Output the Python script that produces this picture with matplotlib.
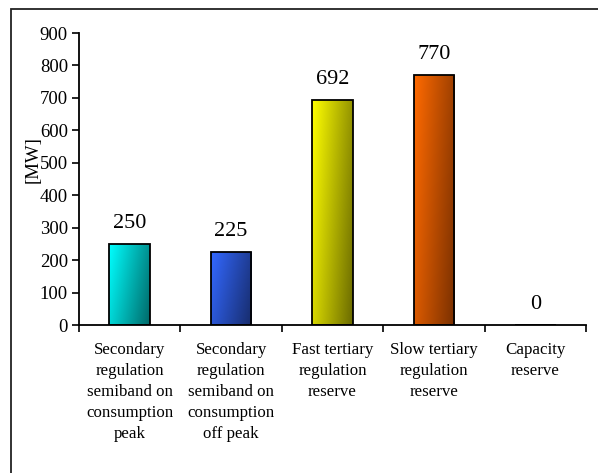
import matplotlib
matplotlib.use("Agg")
import matplotlib.pyplot as plt
from matplotlib.patches import Rectangle
from matplotlib.colors import to_rgb
import numpy as np

plt.rcParams['font.family'] = ['Liberation Serif', 'DejaVu Serif']

# données
categories = [
    "Secondary\nregulation\nsemiband on\nconsumption\npeak",
    "Secondary\nregulation\nsemiband on\nconsumption\noff peak",
    "Fast tertiary\nregulation\nreserve",
    "Slow tertiary\nregulation\nreserve",
    "Capacity\nreserve",
]
valeurs = [250, 225, 692, 770, 0]
couleurs_claires = ['#00FFFF', '#3368FF', '#FFFF00', '#FF6A00', '#CC99FF']
couleurs_foncees = ['#006A6A', '#172C6C', '#6C6C00', '#7A3000', '#663399']
yticks = list(range(0, 901, 100))

fig = plt.figure(figsize=(5.98, 4.73), dpi=100)
ax = fig.add_axes([79 / 598, 148 / 473, 507 / 598, 292 / 473])

x = np.arange(len(valeurs))
largeur = 0.40

# barres de base
barres = ax.bar(x, valeurs, width=largeur, color=couleurs_claires,
                edgecolor='none', zorder=2)

# dégradé diagonal dans chaque barre
ny, nx = 60, 30
xf = np.linspace(0, 1, nx)[None, :]
yf = np.linspace(0, 1, ny)[:, None]
t = np.clip(0.72 * xf + 0.28 * yf, 0, 1)
for b, c1, c2 in zip(barres, couleurs_claires, couleurs_foncees):
    if b.get_height() <= 0:
        continue
    a = np.array(to_rgb(c1))
    d = np.array(to_rgb(c2))
    img = a[None, None, :] + (d - a)[None, None, :] * t[:, :, None]
    x0 = b.get_x()
    im = ax.imshow(img, extent=(x0, x0 + b.get_width(), 0, b.get_height()),
                   origin='upper', aspect='auto', interpolation='bilinear',
                   zorder=2.5)
    im.set_clip_path(b)

# contours
ax.bar(x, valeurs, width=largeur, fill=False, edgecolor='black',
       linewidth=1.3, zorder=3)

for xi, v in zip(x, valeurs):
    ax.annotate(str(v), (xi, v), xytext=(0, 15), textcoords='offset points',
                ha='center', va='center', fontsize=16)

ax.set_xlim(-0.5, len(valeurs) - 0.5)
ax.set_ylim(0, 900)
ax.set_yticks(yticks)
ax.tick_params(axis='y', direction='out', length=5, width=1.2, labelsize=13.5, pad=3)

ax.set_xticks(np.arange(-0.5, len(valeurs), 1.0))
ax.set_xticklabels([])
ax.tick_params(axis='x', which='major', direction='out', length=5, width=1.2)
ax.set_xticks(x, minor=True)
ax.set_xticklabels(categories, minor=True, fontsize=12.2)
ax.tick_params(axis='x', which='minor', length=0, pad=12)
for lab in ax.get_xticklabels(minor=True):
    lab.set_linespacing(1.42)

for s in ['top', 'right']:
    ax.spines[s].set_visible(False)
for s in ['left', 'bottom']:
    ax.spines[s].set_linewidth(1.3)

ax.set_ylabel("[MW]", fontsize=13.5)
ax.yaxis.set_label_coords(-0.074, 0.565)

# cadre extérieur
fig.patches.append(Rectangle((11 / 598, -0.1), 1.2, 1 - 9 / 473 + 0.1,
                             transform=fig.transFigure, fill=False,
                             edgecolor='#222222', linewidth=1.3))

fig.savefig("out.png", dpi=100)
plt.close(fig)
